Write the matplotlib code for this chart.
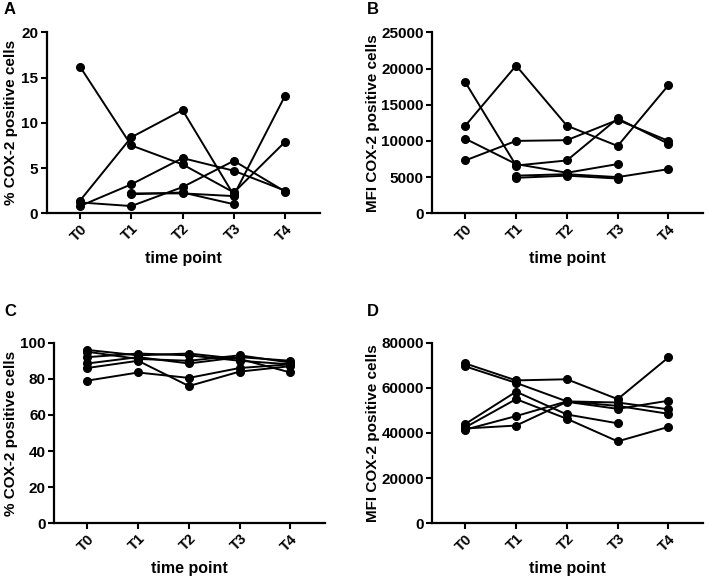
import numpy as np
import matplotlib
matplotlib.use("Agg")
import matplotlib.pyplot as plt

plt.rcParams['font.family'] = ['Liberation Sans', 'DejaVu Sans']
plt.rcParams['font.weight'] = 'bold'

time_points = ["T0", "T1", "T2", "T3", "T4"]
nan = np.nan

# Panel A: % COX-2 positive cells
pct_a = [
    [16.2, 7.5, 5.4, 2.3, 7.9],
    [1.4, 8.4, 11.4, 2.0, 13.0],
    [0.8, 3.2, 6.1, 4.7, 2.5],
    [1.2, 0.8, 2.9, 5.8, 2.4],
    [nan, 2.2, 2.2, 1.9, nan],
    [nan, 2.1, 2.3, 1.0, nan],
]
# Panel B: MFI COX-2 positive cells
mfi_b = [
    [12100, 20400, 12100, 9300, 17700],
    [18100, 6600, 7300, 13100, 9600],
    [10300, 6800, 5600, 6800, nan],
    [7300, 10000, 10100, 12900, 10000],
    [nan, 5200, 5400, 5000, 6100],
    [nan, 4900, 5200, 4800, nan],
]
# Panel C: % COX-2 positive cells
pct_c = [
    [79, 83.5, 80.5, 86, 88],
    [86, 90, 76, 84, 87],
    [96, 93, 94, 91, 83.5],
    [95, 91, 90, 93, 89],
    [92, 94, 93, 90, 88],
    [88.5, 92, 88.5, 92, 90],
]
# Panel D: MFI COX-2 positive cells
mfi_d = [
    [70800, 63300, 63800, 55000, 73500],
    [69500, 62200, 54000, 52000, 48500],
    [44000, 58300, 48200, 44300, nan],
    [42500, 55000, 46300, 36300, 42700],
    [41500, 47500, 54000, 53500, 50500],
    [42000, 43300, 53800, 50700, 54300],
]

W, H = 709, 579
fig = plt.figure(figsize=(W / 100, H / 100), dpi=100)

panels = [
    ("A", pct_a, "% COX-2 positive cells", (0, 20), [0, 5, 10, 15, 20], (46.7, 320, 32.3, 213.3), (4, 10), 18),
    ("B", mfi_b, "MFI COX-2 positive cells", (0, 25000), [0, 5000, 10000, 15000, 20000, 25000], (432.3, 703, 32.3, 213.3), (367, 10), 380),
    ("C", pct_c, "% COX-2 positive cells", (0, 100), [0, 20, 40, 60, 80, 100], (54.3, 325, 342.7, 523.3), (4, 312), 18),
    ("D", mfi_d, "MFI COX-2 positive cells", (0, 80000), [0, 20000, 40000, 60000, 80000], (432.3, 703, 342.7, 523.3), (367, 312), 380),
]

x = np.arange(len(time_points))
for letter, data, ylabel, ylim, yticks, (l, r, t, b), (lx, ly), ylx in panels:
    ax = fig.add_axes([l / W, 1 - b / H, (r - l) / W, (b - t) / H])
    for series in data:
        s = np.array(series, dtype=float)
        m = ~np.isnan(s)
        ax.plot(x[m], s[m], color='black', lw=1.4, marker='o', ms=5.5,
                markerfacecolor='black', markeredgecolor='black', clip_on=False)
    ax.set_ylim(*ylim)
    ax.set_yticks(yticks)
    ax.set_yticklabels([str(v) for v in yticks], fontsize=11, fontweight='bold')
    ax.set_xlim(-0.65, 4.68)
    ax.set_xticks(x)
    ax.set_xticklabels(time_points, rotation=45, ha='right', rotation_mode='anchor',
                       fontsize=10.5, fontweight='bold')
    for sp in ['top', 'right']:
        ax.spines[sp].set_visible(False)
    for sp in ['left', 'bottom']:
        ax.spines[sp].set_linewidth(1.6)
    ax.tick_params(axis='both', width=1.5, length=4, direction='out', pad=2)
    ax.set_ylabel(ylabel, fontsize=11, fontweight='bold')
    ax.yaxis.set_label_coords((ylx - l) / (r - l), 0.5)
    ax.set_xlabel("time point", fontsize=11.5, fontweight='bold', labelpad=5)
    fig.text(lx / W, 1 - ly / H, letter, fontsize=12, fontweight='bold', va='center', ha='left')

fig.savefig("out.png", dpi=100, facecolor='white')
